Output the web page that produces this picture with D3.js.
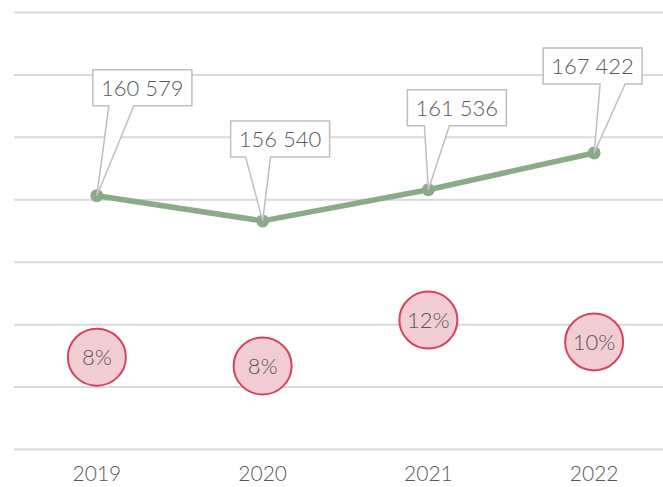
<!DOCTYPE html>
<html>
<head>
<meta charset="utf-8">
<script src="https://cdn.jsdelivr.net/npm/d3@7"></script>
<style>
  body { margin: 0; background: #fff; }
  svg { display: block; font-family: "Lato", "Open Sans", sans-serif; }
</style>
</head>
<body>
<div id="chart"></div>
<script>
// chart data
const years = ["2019", "2020", "2021", "2022"];
const totals = [160579, 156540, 161536, 167422];
const shares = [0.084, 0.076, 0.118, 0.098];
const gridValues = [120000, 130000, 140000, 150000, 160000, 170000, 180000, 190000];

// callout placement, relative to the point (box left/top, wedge start)
const callouts = [
    {dx: -4, dy: -126, wedge: 16},
    {dx: -32, dy: -100, wedge: 15},
    {dx: -21, dy: -100, wedge: 17},
    {dx: -51, dy: -105, wedge: 57}
];

const width = 663, height = 487;
const boxW = 99, boxH = 36, wedgeW = 25;

const svg = d3.select("#chart").append("svg")
    .attr("width", width)
    .attr("height", height);

const x = d3.scaleBand().domain(years).range([14, 677]);
const cx = d => x(d) + x.bandwidth() / 2;

const y = d3.scaleLinear().domain([120000, 190000]).range([449, 12]);
const y2 = d3.scaleLinear().domain([0, 0.40]).range([449, 12]);

// gridlines
const grid = svg.append("g")
    .attr("transform", "translate(14,0)")
    .call(d3.axisLeft(y).tickValues(gridValues).tickSize(-663).tickFormat(""));
grid.select(".domain").remove();
grid.selectAll(".tick line").attr("stroke", "#d9d9d9").attr("stroke-width", 2);

// year labels
const xAxis = svg.append("g")
    .attr("transform", "translate(0,449)")
    .call(d3.axisBottom(x).tickSize(0).tickPadding(17));
xAxis.select(".domain").remove();
xAxis.selectAll("text")
    .attr("fill", "#595959")
    .style("font-size", "21px")
    .style("font-weight", 300)
    .style("font-family", "Lato, sans-serif");

// line
const line = d3.line()
    .x((d, i) => cx(years[i]))
    .y(d => y(d));

svg.append("path")
    .datum(totals)
    .attr("d", line)
    .attr("fill", "none")
    .attr("stroke", "#8aab88")
    .attr("stroke-width", 5.5)
    .attr("stroke-linejoin", "round");

svg.selectAll(".pt")
    .data(totals)
    .enter().append("circle")
    .attr("class", "pt")
    .attr("cx", (d, i) => cx(years[i]))
    .attr("cy", d => y(d))
    .attr("r", 6.5)
    .attr("fill", "#8aab88");

// callouts
const fmt = v => d3.format(",")(v).replace(/,/g, " ");
const cg = svg.selectAll(".callout")
    .data(totals)
    .enter().append("g")
    .attr("class", "callout");

cg.append("path")
    .attr("d", (d, i) => {
        const px = cx(years[i]), py = y(d);
        const c = callouts[i];
        const l = px + c.dx, t = py + c.dy, r = l + boxW, b = t + boxH;
        const w0 = l + c.wedge, w1 = w0 + wedgeW;
        return `M${l},${t}H${r}V${b}H${w1}L${px},${py}L${w0},${b}H${l}Z`;
    })
    .attr("fill", "#fff")
    .attr("stroke", "#bfbfbf")
    .attr("stroke-width", 1.5)
    .attr("stroke-linejoin", "miter");

cg.append("text")
    .attr("x", (d, i) => cx(years[i]) + callouts[i].dx + boxW / 2)
    .attr("y", (d, i) => y(d) + callouts[i].dy + boxH / 2)
    .attr("dy", "0.36em")
    .attr("text-anchor", "middle")
    .attr("fill", "#595959")
    .style("font-size", "22px")
    .style("font-weight", 300)
    .text(d => fmt(d));

// share bubbles
const pct = d3.format(".0%");
const bg = svg.selectAll(".bubble")
    .data(shares)
    .enter().append("g")
    .attr("class", "bubble")
    .attr("transform", (d, i) => `translate(${cx(years[i])},${y2(d)})`);

bg.append("ellipse")
    .attr("rx", 29)
    .attr("ry", 28.5)
    .attr("fill", "#f2cdd4")
    .attr("stroke", "#d6435f")
    .attr("stroke-width", 2);

bg.append("text")
    .attr("dy", "0.36em")
    .attr("text-anchor", "middle")
    .attr("fill", "#595959")
    .style("font-size", "22px")
    .style("font-weight", 300)
    .text(d => pct(d));
</script>
</body>
</html>
